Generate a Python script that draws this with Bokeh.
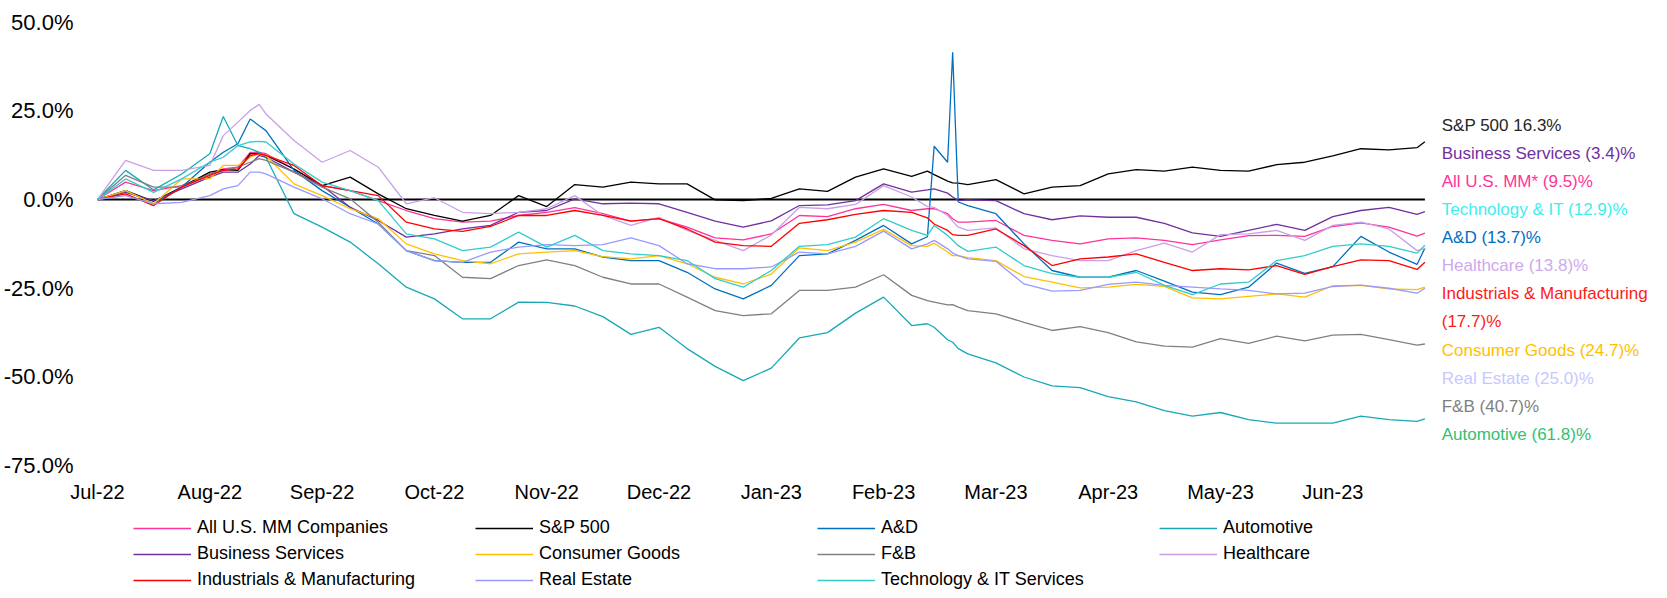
from bokeh.plotting import figure
from bokeh.layouts import column
from bokeh.models import Range1d, FixedTicker, PrintfTickFormatter, Legend, LegendItem
from bokeh.core.properties import value
from bokeh.embed import file_html
from bokeh.resources import INLINE

# time axis: months elapsed since Jul-22 (tick labels below)
months = [0, 0.25, 0.5, 0.75, 1.0, 1.12, 1.25, 1.36, 1.44, 1.5, 1.75, 2.0, 2.25, 2.5, 2.75,
          3.0, 3.25, 3.5, 3.75, 4.0, 4.25, 4.5, 4.75, 5.0, 5.25, 5.5, 5.75, 6.0, 6.25, 6.5,
          6.75, 7.0, 7.25, 7.39, 7.45, 7.57, 7.615, 7.665, 7.75, 8.0, 8.25, 8.5, 8.75, 9.0,
          9.25, 9.5, 9.75, 10.0, 10.25, 10.5, 10.75, 11.0, 11.25, 11.5, 11.75, 11.82]
month_labels = ["Jul-22", "Aug-22", "Sep-22", "Oct-22", "Nov-22", "Dec-22",
                "Jan-23", "Feb-23", "Mar-23", "Apr-23", "May-23", "Jun-23"]
y_ticks = [-75, -50, -25, 0, 25, 50]

all_mm = [0, 4.9, 2.5, 3.9, 7.2, 8.6, 9.1, 13.3, 13.3, 12.9, 8.6, 3.9, 2.5, -0.3, -3.1, -5.4, -6.4, -6.1, -4.5, -3.6, -2.3, -4.0, -6.1, -5.4, -7.8, -10.8, -11.4, -9.7, -4.5, -4.8, -2.6, -1.4, -3.1, -2.6, -2.6, -4.0, -5.4, -6.4, -6.4, -5.9, -10.1, -11.5, -12.5, -11.1, -10.8, -11.5, -12.7, -11.4, -10.2, -10.1, -10.4, -7.6, -6.6, -7.8, -10.3, -9.5]
sp500 = [0, 2.5, -0.5, 3.5, 7.7, 8.4, 8.2, 12.9, 12.9, 12.4, 8.6, 3.9, 6.3, 1.6, -2.6, -4.5, -6.1, -4.5, 1.1, -2.0, 4.2, 3.5, 4.9, 4.4, 4.4, -0.1, -0.3, 0.3, 3.0, 2.3, 6.3, 8.6, 6.5, 8.0, 7.0, 5.2, 4.7, 4.6, 4.2, 5.6, 1.6, 3.5, 3.9, 7.2, 8.4, 8.0, 9.1, 8.2, 8.0, 9.8, 10.5, 12.3, 14.3, 14.0, 14.6, 16.3]
ad = [0, 2.5, -1.2, 3.5, 10.5, 13.3, 15.7, 22.7, 20.8, 19.4, 8.2, 2.5, -2.2, -6.9, -14.4, -17.2, -17.7, -17.7, -12.0, -13.9, -13.9, -16.2, -17.2, -17.2, -20.5, -25.2, -28.0, -24.2, -15.8, -15.3, -11.5, -7.3, -12.5, -10.5, 15.0, 10.5, 41.5, -0.7, -1.7, -4.0, -12.5, -20.0, -21.9, -21.9, -20.0, -23.0, -26.1, -26.8, -24.7, -17.9, -20.8, -18.9, -10.4, -14.8, -18.3, -13.7]
automotive = [0, 8.2, 2.7, 7.2, 12.9, 23.4, 15.2, 14.3, 13.3, 11.9, -4.0, -7.8, -12.0, -18.1, -24.7, -28.0, -33.6, -33.6, -28.9, -29.0, -30.0, -33.0, -38.0, -36.0, -42.0, -47.0, -51.0, -47.5, -39.0, -37.5, -32.0, -27.5, -35.5, -35.0, -36.0, -39.5, -40.2, -42.0, -43.5, -46.0, -50.0, -52.5, -53.0, -55.5, -57.0, -59.5, -61.0, -60.0, -62.0, -63.0, -63.0, -63.0, -61.0, -62.0, -62.5, -61.8]
business_services = [0, 2.0, -0.3, 3.0, 6.3, 7.7, 7.7, 10.0, 12.4, 11.9, 7.7, 3.9, -2.2, -5.9, -10.6, -9.7, -8.3, -7.3, -3.6, -3.1, 0.2, -1.2, -1.0, -1.2, -3.6, -6.1, -7.8, -6.0, -1.7, -1.5, -0.3, 4.4, 2.1, 2.7, 3.0, 1.8, 0.7, -0.3, -0.1, -0.3, -4.0, -5.7, -4.6, -5.0, -5.0, -6.7, -9.4, -10.4, -8.7, -7.0, -8.7, -4.8, -3.1, -2.2, -4.2, -3.4]
consumer_goods = [0, 2.5, -1.2, 5.8, 5.8, 9.6, 9.6, 11.9, 12.9, 12.4, 4.4, 1.1, -2.6, -5.4, -12.5, -15.3, -17.2, -18.1, -15.3, -14.8, -14.4, -16.1, -16.7, -15.8, -18.1, -21.9, -23.8, -21.0, -13.6, -14.4, -12.0, -8.4, -13.0, -13.2, -12.3, -14.8, -15.8, -15.8, -16.4, -17.2, -21.7, -23.3, -24.9, -24.7, -23.9, -24.5, -27.7, -28.0, -27.3, -26.6, -27.5, -24.3, -24.2, -25.2, -25.4, -24.7]
fb = [0, 6.8, 3.5, 3.5, 7.2, 8.2, 9.1, 10.5, 11.5, 11.0, 7.7, 3.5, 0.2, -6.4, -14.4, -15.8, -21.9, -22.3, -18.6, -17.0, -18.6, -21.9, -23.8, -23.8, -27.5, -31.3, -32.7, -32.2, -25.6, -25.6, -24.7, -21.2, -27.0, -28.5, -28.9, -29.7, -29.6, -30.3, -31.3, -32.2, -34.6, -36.9, -35.8, -37.5, -40.1, -41.3, -41.6, -39.2, -40.5, -38.5, -39.8, -38.2, -38.0, -39.5, -41.0, -40.7]
healthcare = [0, 11.0, 8.2, 8.2, 9.6, 18.0, 21.8, 25.1, 26.8, 24.1, 16.6, 10.5, 13.8, 9.1, -1.2, 0.5, -3.6, -4.0, -3.6, -2.6, 1.1, -4.5, -7.3, -5.0, -8.7, -11.5, -14.4, -10.0, -2.2, -2.6, -1.4, 3.9, 0.7, -2.0, -2.2, -4.5, -6.1, -7.8, -8.7, -8.0, -13.9, -15.8, -17.2, -17.2, -14.4, -12.3, -14.8, -9.9, -9.7, -8.7, -11.5, -7.3, -6.4, -8.3, -14.4, -13.8]
industrials = [0, 1.6, -1.7, 3.5, 6.8, 8.2, 8.6, 12.4, 12.9, 12.4, 9.6, 3.9, 2.5, 1.1, -6.4, -8.3, -9.0, -7.6, -4.5, -4.5, -3.1, -4.5, -6.1, -5.4, -8.3, -12.0, -13.0, -13.2, -6.7, -5.7, -4.2, -3.1, -3.6, -5.2, -6.9, -8.7, -9.9, -10.1, -10.1, -8.3, -13.0, -18.6, -16.7, -16.2, -15.3, -17.7, -20.0, -19.5, -19.8, -18.6, -21.1, -18.9, -17.0, -17.2, -19.7, -17.7]
real_estate = [0, 1.1, -1.2, -0.8, 1.1, 3.0, 3.9, 7.7, 7.7, 7.2, 3.5, 0.2, -4.0, -6.9, -14.4, -17.2, -17.7, -14.8, -13.4, -12.7, -13.0, -12.7, -10.8, -13.0, -18.1, -19.5, -19.5, -19.0, -14.8, -15.3, -13.2, -8.9, -13.9, -12.5, -11.5, -13.9, -15.1, -15.8, -16.7, -17.4, -23.8, -25.8, -25.6, -23.9, -23.3, -24.2, -24.7, -25.2, -25.6, -26.6, -26.4, -24.5, -24.1, -25.0, -26.4, -25.0]
tech_it = [0, 5.8, 2.0, 5.8, 10.5, 11.9, 15.2, 16.2, 16.4, 16.2, 10.0, 4.9, 2.5, -0.3, -9.7, -11.1, -14.4, -13.4, -9.2, -13.4, -10.1, -14.4, -15.3, -15.8, -17.2, -22.3, -24.7, -20.0, -13.2, -12.7, -10.6, -5.4, -8.7, -10.1, -7.3, -10.1, -11.5, -13.0, -14.6, -13.4, -18.6, -20.9, -21.9, -21.9, -20.5, -24.2, -26.8, -23.8, -23.3, -17.2, -15.8, -13.2, -12.5, -13.2, -15.1, -12.9]

series_names = ["All U.S. MM Companies", "S&P 500", "A&D", "Automotive",
                "Business Services", "Consumer Goods", "F&B", "Healthcare",
                "Industrials & Manufacturing", "Real Estate", "Technology & IT Services"]
series_values = [all_mm, sp500, ad, automotive, business_services, consumer_goods,
                 fb, healthcare, industrials, real_estate, tech_it]
series_colors = ["#FF3399", "#000000", "#0070C0", "#17A9B7", "#7030A0", "#FFC000",
                 "#808080", "#C9A0E8", "#FF0000", "#9999FF", "#33CCCC"]

end_labels = ["S&P 500 16.3%", "Business Services (3.4)%", "All U.S. MM* (9.5)%",
              "Technology & IT (12.9)%", "A&D (13.7)%", "Healthcare (13.8)%",
              "Industrials & Manufacturing", "(17.7)%", "Consumer Goods (24.7)%",
              "Real Estate (25.0)%", "F&B (40.7)%", "Automotive (61.8)%"]
end_label_colors = ["#262626", "#7030A0", "#FF3399", "#40EEEE", "#0070C0", "#CDAAEE",
                    "#FF1A1A", "#FF1A1A", "#FFC000", "#C8C8FF", "#7F7F7F", "#33C073"]

FONT = "Liberation Sans"
W = 1650

# ---------------- main chart ----------------
p = figure(width=W, height=513, output_backend="svg", toolbar_location=None,
           x_range=Range1d(0, 13.829), y_range=Range1d(-76.34, 50.99),
           min_border_left=97, min_border_right=0, min_border_top=18, min_border_bottom=43)
p.grid.visible = False
p.outline_line_color = None
p.background_fill_color = "white"
p.border_fill_color = "white"

p.yaxis.ticker = FixedTicker(ticks=y_ticks)
p.yaxis.formatter = PrintfTickFormatter(format="%.1f%%")
p.yaxis.axis_line_color = None
p.yaxis.major_tick_line_color = None
p.yaxis.minor_tick_line_color = None
p.yaxis.major_label_text_font = FONT
p.yaxis.major_label_text_font_size = "22px"
p.yaxis.major_label_text_color = "black"
p.yaxis.major_label_standoff = 18

p.xaxis.ticker = FixedTicker(ticks=list(range(len(month_labels))))
p.xaxis.major_label_overrides = {i: lab for i, lab in enumerate(month_labels)}
p.xaxis.axis_line_color = None
p.xaxis.major_tick_line_color = None
p.xaxis.minor_tick_line_color = None
p.xaxis.major_label_text_font = FONT
p.xaxis.major_label_text_font_size = "20px"
p.xaxis.major_label_text_color = "black"
p.xaxis.major_label_standoff = 4

# zero line (horizontal category axis crossing at 0)
p.line([months[0], months[-1]], [0, 0], line_color="black", line_width=2)

for vals, col in zip(series_values, series_colors):
    p.line(months, vals, line_color=col, line_width=1.3)

# end-of-period labels to the right of the lines
lab_x = [months[-1] + 0.15] * len(end_labels)
lab_y = [20.8 - 7.9 * i for i in range(len(end_labels))]
p.text(x=lab_x, y=lab_y, text=end_labels, text_color=end_label_colors,
       text_font=value(FONT), text_font_size="17px",
       text_baseline="middle", text_align="left")

# ---------------- legend strip ----------------
q = figure(width=W, height=77, output_backend="svg", toolbar_location=None,
           x_range=Range1d(0, 1), y_range=Range1d(1000, 1001),
           x_axis_location=None, y_axis_location=None,
           min_border_left=0, min_border_right=0, min_border_top=0, min_border_bottom=0)
q.grid.visible = False
q.outline_line_color = None
q.background_fill_color = "white"
q.border_fill_color = "white"

items = []
for name, vals, col in zip(series_names, series_values, series_colors):
    r = q.line(months, vals, line_color=col, line_width=1.3)
    items.append(LegendItem(label=name, renderers=[r]))

row_bottoms = [52, 26, 0]
for r_i in range(3):
    leg = Legend(items=items[4 * r_i: 4 * r_i + 4], orientation="horizontal",
                 location=(36, row_bottoms[r_i]), glyph_width=58, glyph_height=20,
                 label_standoff=6, label_width=272, label_height=20, spacing=6,
                 padding=0, margin=0, border_line_color=None,
                 background_fill_alpha=0, label_text_font=FONT,
                 label_text_font_size="18px", label_text_color="black")
    q.add_layout(leg)

open("out.html", "w").write(file_html(column(p, q), INLINE))
